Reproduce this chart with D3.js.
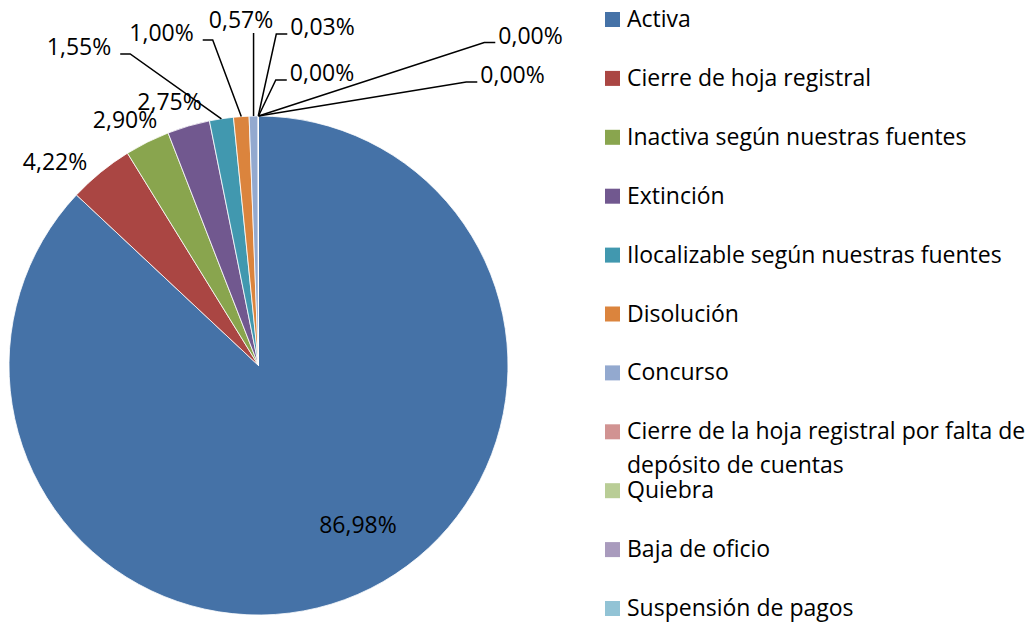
<!DOCTYPE html>
<html>
<head>
<meta charset="utf-8">
<script src="https://cdn.jsdelivr.net/npm/d3@7"></script>
<style>
  body { margin: 0; background: #fff; }
  svg { display: block; font-family: "Open Sans", "Noto Sans", sans-serif; }
</style>
</head>
<body>
<svg id="chart" width="1036" height="623"></svg>
<script>
// datos del grafico
const categories = [
  "Activa",
  "Cierre de hoja registral",
  "Inactiva según nuestras fuentes",
  "Extinción",
  "Ilocalizable según nuestras fuentes",
  "Disolución",
  "Concurso",
  "Cierre de la hoja registral por falta de depósito de cuentas",
  "Quiebra",
  "Baja de oficio",
  "Suspensión de pagos"
];
const values = [86.98, 4.22, 2.90, 2.75, 1.55, 1.00, 0.57, 0.03, 0.00, 0.00, 0.00];
const colors = ["#4572a7", "#aa4643", "#89a54e", "#71588f", "#4198af", "#db843d",
                "#93a9cf", "#d19392", "#b9cd96", "#a99bbd", "#92c3d5"];

// donde Excel dejo cada etiqueta (centro del texto) y por que lado sale la guia
const labelSpots = [
  [358, 525, "none"], [55, 162, "none"], [125, 120, "none"], [169.5, 102, "none"],
  [79, 47, "left"], [161.5, 33, "left"], [241, 20, "below"], [322.5, 27, "right"],
  [322, 73, "right"], [530.5, 35.5, "right"], [512.5, 75, "right"]
];

const cx = 258.5, cy = 365.5, radius = 249.5;

const svg = d3.select("#chart");

const pie = d3.pie().sort(null).value(function(d){ return d; });
const arcs = pie(values);
const arc = d3.arc().innerRadius(0).outerRadius(radius);

const g = svg.append("g").attr("transform", "translate(" + cx + "," + cy + ")");

g.selectAll("path.slice")
  .data(arcs)
  .enter().append("path")
  .attr("class", "slice")
  .attr("d", arc)
  .attr("fill", function(d, i){ return colors[i]; })
  .attr("stroke", "#fff")
  .attr("stroke-width", 0.8);

// formato con coma decimal
const fmt = function(v){ return d3.format(".2f")(v).replace(".", ",") + "%"; };

const labels = svg.append("g");
arcs.forEach(function(d, i){
  const spot = labelSpots[i];
  const t = labels.append("text")
    .attr("x", spot[0])
    .attr("y", spot[1] + 8)
    .attr("text-anchor", "middle")
    .attr("font-size", 23)
    .attr("fill", "#000")
    .text(fmt(values[i]));

  if (spot[2] === "none") return;

  // punto del borde en el angulo medio del sector
  const mid = (d.startAngle + d.endAngle) / 2;
  const ex = cx + radius * Math.sin(mid);
  const ey = cy - radius * Math.cos(mid);
  const box = t.node().getBBox();
  let pts;
  if (spot[2] === "left") {
    const ax = box.x + box.width + 9;
    pts = [[ax, spot[1] + 7], [ax + 10, spot[1] + 7], [ex, ey]];
  } else if (spot[2] === "right") {
    const ax = box.x - 3;
    pts = [[ax, spot[1] + 7], [ax - 11, spot[1] + 7], [ex, ey]];
  } else {
    pts = [[ex, spot[1] + 13], [ex, ey]];
  }
  labels.append("path")
    .attr("d", d3.line()(pts))
    .attr("fill", "none")
    .attr("stroke", "#000")
    .attr("stroke-width", 1.5);
});

// leyenda
const legend = svg.append("g");
const legendY = d3.scaleLinear().domain([0, categories.length - 1]).range([19.5, 608.5]);
const maxW = 420;

categories.forEach(function(name, i){
  const y = legendY(i);
  legend.append("rect")
    .attr("x", 605).attr("y", y - 7.5)
    .attr("width", 15).attr("height", 15)
    .attr("fill", colors[i]);

  const txt = legend.append("text")
    .attr("x", 627).attr("y", y + 7.5)
    .attr("font-size", 23)
    .attr("fill", "#000");

  // partir el texto si no cabe
  const words = name.split(" ");
  let line = [];
  let tspan = txt.append("tspan").attr("x", 627);
  words.forEach(function(w){
    line.push(w);
    tspan.text(line.join(" "));
    if (tspan.node().getComputedTextLength() > maxW && line.length > 1) {
      line.pop();
      tspan.text(line.join(" "));
      line = [w];
      tspan = txt.append("tspan").attr("x", 627).attr("dy", 34).text(w);
    }
  });
});
</script>
</body>
</html>
